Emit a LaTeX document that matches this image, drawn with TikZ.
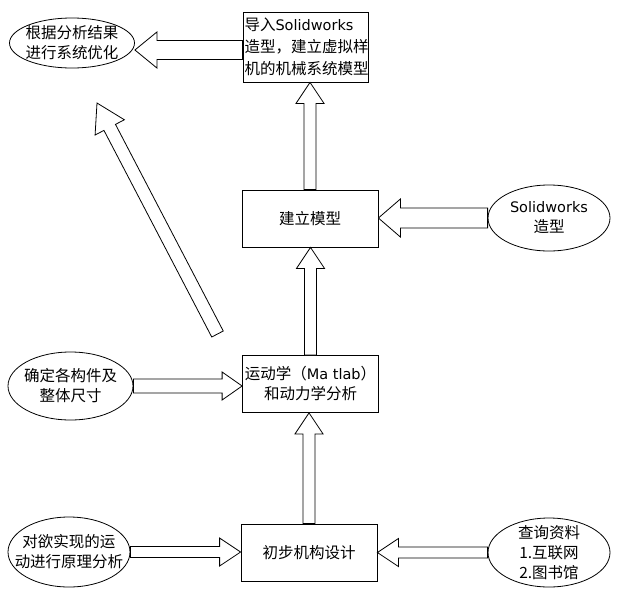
\documentclass[tikz,border=0pt]{standalone}
\usepackage{fontspec}
\setmainfont{Noto Sans CJK SC}
\newfontfamily\latinfont{DejaVu Sans}
\usetikzlibrary{shapes.geometric,calc}
\newcommand\zhfont{\fontsize{15.5}{20}\selectfont}
\newcommand\lt[1]{{\latinfont\fontsize{14.5}{20}\selectfont #1}}
\tikzset{
  box/.style={draw=black, line width=0.8pt, fill=white, inner sep=0pt,
    minimum width=136pt, minimum height=57pt, font=\zhfont, align=center},
  ell/.style={draw=black, line width=0.8pt, ellipse, inner sep=0pt},
  lbl/.style={font=\zhfont, align=center, inner sep=0pt},
  blk/.style={draw=black, line width=0.8pt, fill=white, line join=miter},
}
% #1 start, #2 tip, #3 body half width, #4 head half width, #5 head length
\newcommand\blkarrow[5]{%
  \path (#1) coordinate (ba-s);
  \path (#2) coordinate (ba-t);
  \coordinate (ba-h) at ($(ba-t)!#5!(ba-s)$);
  \draw[blk] ($(ba-s)!#3!90:(ba-t)$) -- ($(ba-h)!#3!-90:(ba-s)$)
    -- ($(ba-h)!#4!-90:(ba-s)$) -- (ba-t) -- ($(ba-h)!#4!90:(ba-s)$)
    -- ($(ba-h)!#3!90:(ba-s)$) -- ($(ba-s)!#3!-90:(ba-t)$) -- cycle;
}
\begin{document}
\begin{tikzpicture}[x=1pt,y=-1pt]
\useasboundingbox[fill=white] (0,0) rectangle (627,603);
% boxes
\node[box, minimum width=125pt, minimum height=70pt, text width=122pt, align=left,
  font=\fontsize{15.5}{22}\selectfont] (b1) at (305.5,47)
  {导入\lt{Solidworks}\\造型，建立虚拟样\\机的机械系统模型};
\node[box] (b2) at (310,218.5) {建立模型};
\node[box] (b3) at (310.5,384) {运动学（\lt{Ma tlab}）\\和动力学分析};
\node[box] (b4) at (309,552.5) {初步机构设计};
% ellipses
\node[ell, minimum width=125pt, minimum height=50pt,
  label={[lbl]center:{根据分析结果\\进行系统优化}}] (e1) at (72,43) {};
\node[ell, minimum width=122pt, minimum height=66pt,
  label={[lbl]center:{\lt{Solidworks}\\造型}}] (e2) at (549,218) {};
\node[ell, minimum width=125pt, minimum height=68pt,
  label={[lbl]center:{确定各构件及\\整体尺寸}}] (e3) at (70.5,386) {};
\node[ell, minimum width=122pt, minimum height=70pt,
  label={[lbl]center:{对欲实现的运\\动进行原理分析}}] (e4) at (69,552) {};
\node[ell, minimum width=122pt, minimum height=69pt,
  label={[lbl]center:{查询资料\\1.互联网\\2.图书馆}}] (e5) at (549,552.5) {};
% connectors
\coordinate (a1s) at ($(b1.west)+(0,3)$);
\blkarrow{a1s}{e1.east |- a1s}{9.5pt}{18pt}{22pt}
\blkarrow{e2.west}{b2.east |- e2.west}{10pt}{19pt}{22pt}
\blkarrow{e3.east}{b3.west |- e3.east}{7pt}{14pt}{20pt}
\blkarrow{e4.east}{b4.west |- e4.east}{5.5pt}{14pt}{21pt}
\blkarrow{e5.west}{b4.east |- e5.west}{5.5pt}{14pt}{21pt}
\blkarrow{b4.north}{b3.south -| b4.north}{6pt}{14pt}{21pt}
\blkarrow{b3.north}{b2.south -| b3.north}{6pt}{14pt}{21pt}
\blkarrow{b2.north}{b1.south -| b2.north}{6pt}{14pt}{21pt}
\coordinate (d0) at (217.5,334);
\coordinate (d1) at (97,103);
\blkarrow{d0}{d1}{6.5pt}{16.5pt}{27.5pt}
\end{tikzpicture}
\end{document}
